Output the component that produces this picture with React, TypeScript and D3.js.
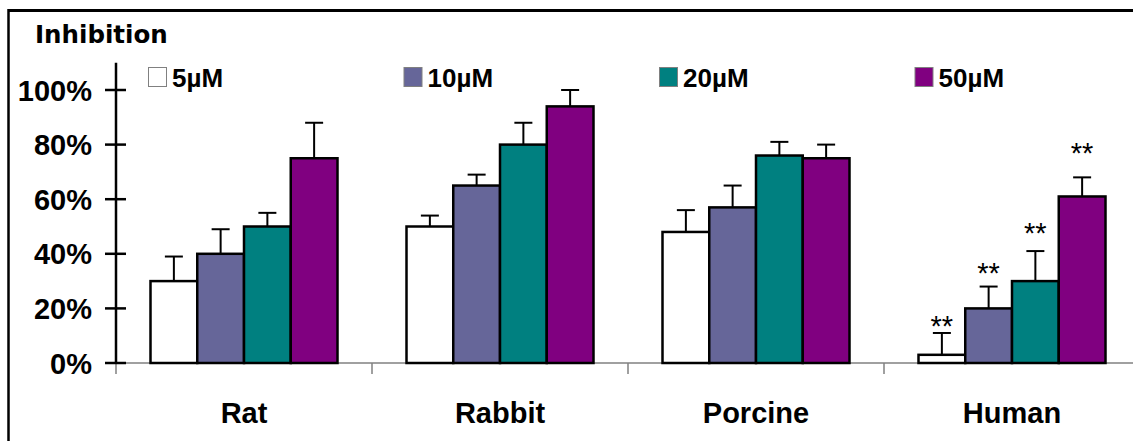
import React from "react";
import * as d3 from "d3";

const categories = ["Rat", "Rabbit", "Porcine", "Human"];
const series = ["5µM", "10µM", "20µM", "50µM"];
const colors = ["#ffffff", "#666699", "#008080", "#800080"];
// values[category][series]
const values = [
  [30, 40, 50, 75],
  [50, 65, 80, 94],
  [48, 57, 76, 75],
  [3, 20, 30, 61],
];
const errorTops = [
  [39, 49, 55, 88],
  [54, 69, 88, 100],
  [56, 65, 81, 80],
  [11, 28, 41, 68],
];
// level (in % units) where the "**" significance marks sit; null = none
const starLevels = [
  [null, null, null, null],
  [null, null, null, null],
  [null, null, null, null],
  [14.5, 34, 48.5, 78],
];
const yTicks = [0, 20, 40, 60, 80, 100];
const yTickLabels = ["0%", "20%", "40%", "60%", "80%", "100%"];

const W = 1133;
const H = 441;
const axisX = 116;
const bandW = 256;
const FONT = "'Liberation Sans', Arial, sans-serif";

export default function App() {
  const y = d3.scaleLinear().domain([0, 110]).range([363, 62.7]);
  const x0 = d3
    .scaleBand<string>()
    .domain(categories)
    .range([axisX, axisX + bandW * categories.length])
    .padding(0);
  const x1 = d3
    .scaleBand<string>()
    .domain(series)
    .range([34.5, bandW - 34.5])
    .padding(0);
  const bw = x1.bandwidth();
  const y0 = y(0);

  return (
    <svg
      width={W}
      height={H}
      style={{ position: "absolute", left: 0, top: 0, background: "#fff" }}
    >
      {/* frame */}
      <line x1={8.5} y1={10.5} x2={W} y2={10.5} stroke="#000" strokeWidth={3} />
      <line x1={8.5} y1={9} x2={8.5} y2={H} stroke="#000" strokeWidth={2.5} />

      {/* title */}
      <text
        x={35}
        y={43}
        fontFamily="'DejaVu Sans', Verdana, sans-serif"
        fontWeight="bold"
        fontSize={24.5}
      >
        Inhibition
      </text>

      {/* legend */}
      {series.map((s, i) => {
        const lx = 148 + i * 255.5;
        return (
          <g key={s}>
            <rect
              x={lx + 0.5}
              y={67.5}
              width={18}
              height={19}
              fill={colors[i]}
              stroke="#808080"
              strokeWidth={1}
            />
            <text
              x={lx + 24}
              y={86.5}
              fontFamily={FONT}
              fontWeight="bold"
              fontSize={26}
            >
              {s}
            </text>
          </g>
        );
      })}

      {/* x axis line */}
      <line x1={axisX} y1={y0} x2={W} y2={y0} stroke="#808080" strokeWidth={1.5} />
      {categories.map((c) => (
        <line
          key={"sep" + c}
          x1={x0(c)!}
          x2={x0(c)!}
          y1={y0}
          y2={y0 + 11}
          stroke="#808080"
          strokeWidth={1.5}
        />
      ))}

      {/* bars */}
      {categories.map((c, ci) => (
        <g key={c} transform={`translate(${x0(c)},0)`}>
          {series.map((s, si) => {
            const bx = x1(s)!;
            const v = values[ci][si];
            const e = errorTops[ci][si];
            const cx = bx + bw / 2;
            const star = starLevels[ci][si];
            return (
              <g key={s}>
                <line x1={cx} x2={cx} y1={y(v)} y2={y(e)} stroke="#000" strokeWidth={2} />
                <line
                  x1={cx - 9}
                  x2={cx + 9}
                  y1={y(e)}
                  y2={y(e)}
                  stroke="#000"
                  strokeWidth={2}
                />
                <rect
                  x={bx}
                  y={y(v)}
                  width={bw}
                  height={y0 - y(v)}
                  fill={colors[si]}
                  stroke="#000"
                  strokeWidth={2.5}
                />
                {star !== null && (
                  <text
                    x={cx}
                    y={y(star) + 12.5}
                    textAnchor="middle"
                    fontFamily={FONT}
                    fontSize={29}
                  >
                    **
                  </text>
                )}
              </g>
            );
          })}
        </g>
      ))}

      {/* y axis */}
      <line x1={axisX} x2={axisX} y1={y(110)} y2={y0} stroke="#000" strokeWidth={2.5} />
      {yTicks.map((t, i) => (
        <g key={t}>
          <line
            x1={axisX - 11}
            x2={axisX + 10}
            y1={y(t)}
            y2={y(t)}
            stroke="#000"
            strokeWidth={2.5}
          />
          <text
            x={92}
            y={y(t) + 10.5}
            textAnchor="end"
            fontFamily={FONT}
            fontWeight="bold"
            fontSize={29}
          >
            {yTickLabels[i]}
          </text>
        </g>
      ))}

      {/* category labels */}
      {categories.map((c) => (
        <text
          key={"lab" + c}
          x={x0(c)! + bandW / 2}
          y={423}
          textAnchor="middle"
          fontFamily={FONT}
          fontWeight="bold"
          fontSize={29}
        >
          {c}
        </text>
      ))}
    </svg>
  );
}
